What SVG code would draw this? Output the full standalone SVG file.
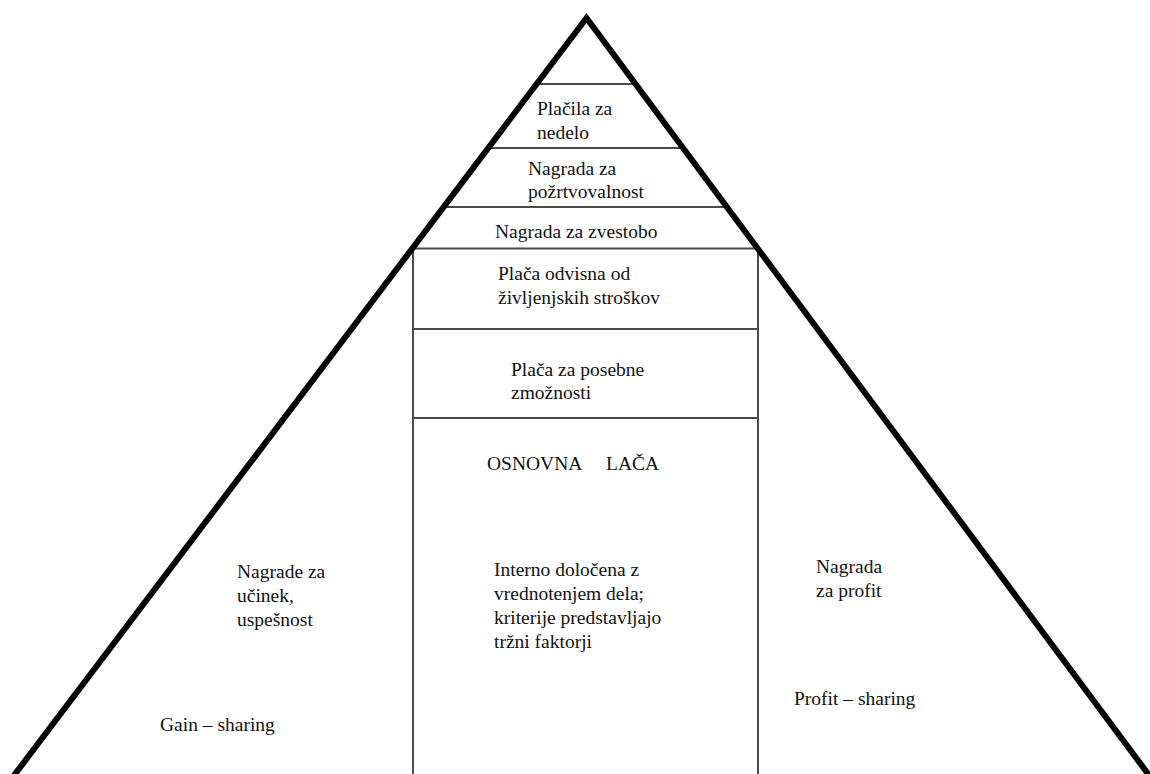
<svg xmlns="http://www.w3.org/2000/svg" width="1150" height="774" viewBox="0 0 1150 774">
<style>
.t{font-family:"Liberation Serif","Times New Roman",serif;font-size:19.5px;fill:#111;}
.thin{stroke:#4a4a4a;stroke-width:2;fill:none;}
.thick{stroke:#000;stroke-width:6;fill:none;stroke-linejoin:miter;stroke-miterlimit:10;}
</style>
<rect width="1150" height="774" fill="#fff"/>
<g id="connectors">
<line class="thin" x1="536" y1="84" x2="636" y2="84"/>
<line class="thin" x1="488" y1="148" x2="683" y2="148"/>
<line class="thin" x1="443" y1="207" x2="727" y2="207"/>
<line class="thin" x1="412" y1="248.5" x2="759" y2="248.5"/>
<line class="thin" x1="413" y1="248" x2="413" y2="774"/>
<line class="thin" x1="758" y1="248" x2="758" y2="774"/>
<line class="thin" x1="413" y1="329" x2="758" y2="329"/>
<line class="thin" x1="413" y1="418" x2="758" y2="418"/>
<path class="thick" d="M3,790 L586.5,18 L1160,790"/>
</g>
<g id="n-placila">
<text class="t" x="537" y="115">Plačila za</text>
<text class="t" x="537" y="139">nedelo</text>
</g>
<g id="n-portvovalnost">
<text class="t" x="528" y="175">Nagrada za</text>
<text class="t" x="528" y="198">požrtvovalnost</text>
</g>
<g id="n-zvestobo">
<text class="t" x="495" y="238">Nagrada za zvestobo</text>
</g>
<g id="n-zivljenjski">
<text class="t" x="498" y="280">Plača odvisna od</text>
<text class="t" x="498" y="304">življenjskih stroškov</text>
</g>
<g id="n-posebne">
<text class="t" x="511" y="376">Plača za posebne</text>
<text class="t" x="511" y="399">zmožnosti</text>
</g>
<g id="n-osnovna">
<text class="t" x="487" y="470">OSNOVNA<tspan x="606">LAČA</tspan></text>
<text class="t" x="494" y="576">Interno določena z</text>
<text class="t" x="494" y="600">vrednotenjem dela;</text>
<text class="t" x="494" y="624">kriterije predstavljajo</text>
<text class="t" x="494" y="648">tržni faktorji</text>
</g>
<g id="n-ucinek">
<text class="t" x="237" y="578">Nagrade za</text>
<text class="t" x="237" y="602">učinek,</text>
<text class="t" x="237" y="626">uspešnost</text>
<text class="t" x="160" y="731">Gain – sharing</text>
</g>
<g id="n-profit">
<text class="t" x="816" y="573">Nagrada</text>
<text class="t" x="816" y="597">za profit</text>
<text class="t" x="794" y="705">Profit – sharing</text>
</g>
</svg>
